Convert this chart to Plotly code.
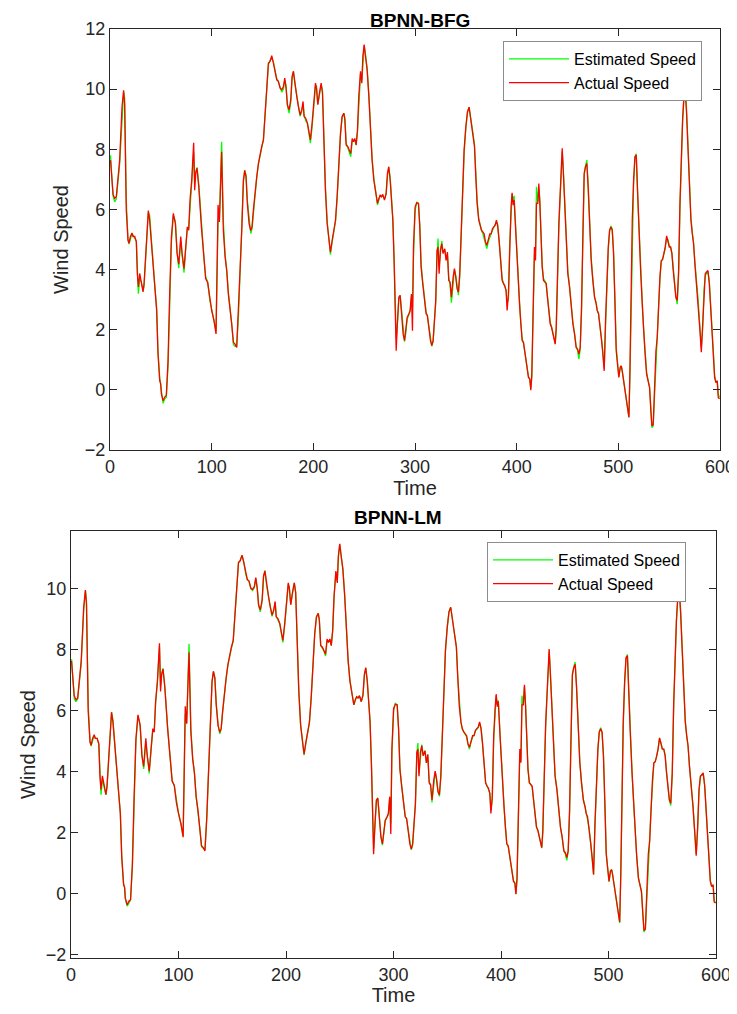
import plotly.graph_objects as go

# time stamps (samples)
time = [
    0.5, 3, 4.6, 6.2, 9.5, 11.8, 13.4, 14.4, 16, 17.7,
    18.7, 20, 21.6, 22.6, 24.3, 25.9, 26.9, 27.9, 29.2, 30.8,
    32.5, 33.5, 35.1, 36.4, 37.7, 39, 41.3, 44, 45.9, 47.2,
    48.9, 49.9, 50.5, 52.2, 53.8, 55.4, 57.1, 58.7, 60.4, 62.3,
    64.3, 66, 67.6, 69.6, 70.9, 72.8, 74.5, 76.1, 77.4, 78.7,
    80.4, 82.3, 83.3, 84.3, 85.6, 87.3, 89.9, 92.5, 94.1, 96.1,
    98.1, 100, 102.3, 104.3, 106.3, 107.6, 109.8, 111.5, 113.2, 114.8,
    116.4, 118.1, 119.7, 121.4, 123, 124.6, 126.3, 127.9, 129.6, 131.2,
    132.5, 133.8, 135.1, 136.8, 138.4, 139.7, 141, 142.7, 144.3, 146,
    147.6, 149.2, 150.9, 152.5, 154.2, 155.8, 157.4, 159.1, 160.7, 162.4,
    164, 165.6, 167.3, 168.9, 170.6, 171.9, 173.2, 174.5, 176.1, 177.8,
    179.1, 180.4, 182, 183.7, 185.3, 187, 188.6, 189.9, 190.9, 192.5,
    194.2, 195.8, 197.1, 198.8, 200.4, 202.1, 203.1, 204.4, 206, 207.7,
    209, 210.3, 211.9, 213.6, 215.2, 216.8, 218.5, 220.1, 221.8, 223.4,
    225, 226.7, 228.3, 230, 231, 232.3, 233.9, 235.5, 236.8, 238.2,
    239.5, 240.8, 242.1, 243.4, 244.7, 246.4, 247.7, 248.7, 250, 251.3,
    252.9, 254.6, 256.2, 257.8, 259.5, 260.5, 261.8, 263.1, 264.4, 265.7,
    267, 268.3, 270, 271.6, 272.9, 274.2, 275.6, 276.9, 278.2, 279.5,
    280.5, 281.5, 282.8, 284.1, 285.4, 286.7, 288.3, 289.7, 291, 292.3,
    293.9, 295.2, 296.5, 297.5, 298.5, 300.1, 301.7, 303.4, 304.7, 306,
    307.6, 309.3, 310.9, 312.2, 313.5, 315.2, 316.5, 317.8, 319.1, 320.4,
    321.7, 322.7, 323.7, 325, 326.3, 327.6, 329.3, 330.6, 331.9, 333.2,
    334.5, 335.8, 337.5, 338.8, 340.1, 341.4, 342.7, 344, 345.4, 347,
    348.3, 350, 351.6, 353.2, 354.5, 355.8, 357.2, 358.5, 359.8, 361.1,
    362.7, 364, 365.4, 366.7, 368, 369.3, 370.6, 371.9, 373.6, 374.9,
    376.2, 377.5, 378.8, 380.1, 381.4, 382.7, 384.1, 385.7, 387, 388.3,
    389.6, 390.6, 391.9, 393.2, 394.5, 395.5, 396.5, 397.5, 399.1, 400.8,
    402.8, 404.1, 405.4, 406.7, 408.4, 410, 411.6, 412.9, 413.9, 414.9,
    416.2, 417.5, 418.5, 419.5, 420.8, 421.8, 422.8, 423.8, 425.1, 426.4,
    427.7, 429, 430.3, 431.6, 433, 434.3, 435.6, 436.9, 437.9, 438.9,
    440.2, 441.5, 442.5, 443.8, 444.8, 445.8, 447.1, 448.7, 450.3, 452,
    453.6, 455.3, 456.9, 458.5, 459.9, 461.2, 462.5, 463.8, 465.1, 466.4,
    467.7, 469, 470.3, 471.7, 473.3, 474.9, 476.6, 478.2, 479.2, 480.5,
    481.8, 483.5, 484.8, 486.1, 487.4, 488.7, 490.1, 491.4, 492.7, 494,
    495.3, 496.6, 497.9, 499.5, 500.5, 501.8, 502.9, 503.8, 505.5, 506.5,
    507.8, 509.4, 510.4, 511.4, 512.4, 513.7, 515, 516.3, 517.6, 518.9,
    520.2, 521.9, 523.5, 524.8, 526.1, 527.8, 529.4, 530.7, 532, 533,
    534.3, 535.7, 537, 538.3, 539.6, 540.9, 542.2, 543.5, 544.8, 546.1,
    547.5, 548.8, 550.1, 551.4, 552.7, 554, 555.3, 556.6, 557.9, 559.3,
    560.6, 561.9, 563.2, 564.5, 565.8, 567.1, 568.5, 569.8, 571.4, 572.7,
    574, 575.3, 577, 578.6, 580.3, 581.6, 582.9, 584.2, 585.5, 586.8,
    588.1, 589.5, 590.8, 592.1, 593.4, 594.7, 596, 597.3, 598.3, 599.6,
]

# measured wind speed (red)
actual_speed = [
    7.64, 6.5, 6.37, 6.42, 7.64, 9.4, 9.96, 9.5, 5.98, 4.98,
    4.87, 5.09, 5.22, 5.1, 5.1, 4.92, 3.87, 3.42, 3.87, 3.53,
    3.26, 3.53, 4.53, 5.53, 5.96, 5.64, 4.53, 3.42, 2.64, 1.2,
    0.31, 0.2, -0.13, -0.36, -0.24, -0.19, 0.98, 3.2, 5.09, 5.87,
    5.53, 4.53, 4.18, 5.1, 4.53, 4.03, 4.76, 5.42, 5.31, 6.31,
    6.98, 8.22, 6.64, 7.2, 7.37, 6.76, 5.42, 4.31, 3.7, 3.56,
    2.98, 2.64, 2.3, 1.86, 6.15, 5.58, 7.92, 5.3, 4.42, 3.97,
    3.19, 2.75, 2.19, 1.58, 1.52, 1.41, 2.52, 3.97, 5.3, 6.97,
    7.3, 7.08, 6.2, 5.53, 5.3, 5.42, 5.97, 6.64, 7.08, 7.53,
    7.86, 8.09, 8.31, 9.2, 9.98, 10.87, 10.92, 11.11, 10.87, 10.53,
    10.31, 10.26, 10.03, 9.98, 10.09, 10.37, 10.03, 9.48, 9.31, 9.64,
    10.42, 10.59, 10.09, 9.76, 9.42, 9.14, 9.31, 9.59, 9.09, 9.03,
    8.87, 8.53, 8.31, 8.87, 9.53, 10.2, 10.03, 9.48, 9.87, 10.2,
    9.87, 8.09, 6.64, 5.53, 4.97, 4.58, 4.97, 5.3, 5.64, 6.42,
    7.53, 8.53, 9.09, 9.2, 8.98, 8.14, 8.09, 7.98, 7.86, 8.36,
    8.25, 8.36, 8.14, 8.64, 9.76, 10.59, 10.2, 11.09, 11.48, 11.09,
    10.65, 9.76, 8.64, 7.64, 6.97, 6.75, 6.42, 6.2, 6.36, 6.47,
    6.42, 6.5, 6.31, 6.53, 7.2, 7.42, 6.97, 6.42, 5.64, 4.2,
    2.52, 1.3, 2.3, 3.08, 3.14, 2.52, 1.86, 1.64, 1.97, 2.41,
    2.52, 2.64, 3.19, 1.97, 4.75, 6.08, 6.22, 6.2, 5.42, 4.08,
    3.53, 2.97, 2.53, 2.47, 2.08, 1.64, 1.47, 1.64, 2.3, 2.97,
    4.64, 4.75, 3.86, 4.64, 4.86, 4.53, 4.69, 4.3, 4.58, 3.64,
    3.58, 3.08, 3.75, 4.03, 3.75, 3.36, 3.25, 3.86, 5.19, 6.53,
    7.98, 8.75, 9.25, 9.4, 9.09, 8.87, 8.42, 8.09, 7.09, 6.2,
    5.64, 5.42, 5.31, 5.25, 5.19, 4.92, 4.81, 4.97, 5.19, 5.19,
    5.36, 5.42, 5.47, 5.64, 5.42, 4.97, 4.3, 3.64, 3.53, 3.47,
    3.3, 2.64, 3.19, 5.19, 6.08, 6.55, 6.14, 6.31, 5.19, 3.9,
    2.86, 2.19, 1.64, 1.58, 1.19, 0.75, 0.41, 0.36, -0.01, 0.52,
    2.3, 4.75, 4.3, 6.2, 6.2, 6.86, 6.2, 5.08, 4.08, 3.64,
    3.58, 3.53, 3.08, 2.53, 2.19, 2.08, 1.86, 1.64, 1.52, 2.08,
    4.08, 5.53, 6.31, 7.31, 8.03, 7.31, 6.2, 4.86, 3.86, 3.42,
    2.75, 2.19, 1.86, 1.41, 1.36, 1.19, 1.41, 2.75, 5.08, 7.2,
    7.42, 7.53, 6.75, 5.53, 4.3, 3.64, 3.08, 2.86, 2.64, 2.53,
    2.19, 1.64, 1.19, 0.63, 2.3, 3.64, 4.75, 5.31, 5.42, 5.31,
    4.53, 2.97, 1.3, 0.75, 0.41, 0.75, 0.8, 0.63, 0.19, -0.03,
    -0.37, -0.7, -0.92, 0.63, 2.86, 5.64, 6.97, 7.75, 7.81, 6.42,
    5.31, 3.97, 2.86, 1.97, 1.3, 0.52, 0.24, 0.08, -0.7, -1.2,
    -1.15, 0.08, 1.3, 1.75, 2.86, 3.75, 4.3, 4.33, 4.53, 4.75,
    5.12, 4.97, 4.75, 4.75, 4.53, 3.97, 3.42, 3.08, 2.97, 3.97,
    6.2, 7.86, 8.98, 9.76, 9.98, 9.2, 7.86, 6.75, 5.64, 5.2,
    4.86, 4.19, 3.53, 2.86, 1.97, 1.25, 2.19, 3.42, 3.86, 3.92,
    3.97, 3.53, 2.86, 1.97, 1.19, 0.41, 0.24, 0.3, -0.26, -0.3,
]

# BPNN-BFG estimate (green, top panel)
est_bfg = [
    7.8, 6.45, 6.25, 6.35, 7.5, 9.2, 9.9, 9.7, 6.3, 5.0,
    4.85, 5.0, 5.2, 5.15, 5.05, 4.95, 4.0, 3.2, 3.7, 3.6,
    3.3, 3.45, 4.4, 5.4, 5.9, 5.8, 4.6, 3.5, 2.7, 1.3,
    0.4, 0.15, -0.1, -0.45, -0.3, -0.25, 0.8, 3.0, 4.9, 5.8,
    5.6, 4.6, 4.05, 4.95, 4.6, 3.9, 4.7, 5.4, 5.35, 6.2,
    6.9, 7.9, 6.9, 7.25, 7.4, 6.85, 5.5, 4.35, 3.75, 3.6,
    3.0, 2.7, 2.35, 1.95, 5.6, 5.6, 8.25, 5.6, 4.5, 4.0,
    3.25, 2.8, 2.2, 1.5, 1.45, 1.45, 2.4, 3.85, 5.2, 6.9,
    7.3, 7.15, 6.3, 5.6, 5.2, 5.35, 5.9, 6.6, 7.05, 7.5,
    7.85, 8.05, 8.3, 9.1, 9.9, 10.8, 10.95, 11.05, 10.9, 10.55,
    10.35, 10.25, 10.05, 9.9, 10.0, 10.3, 10.1, 9.45, 9.2, 9.55,
    10.35, 10.6, 10.15, 9.8, 9.35, 9.1, 9.25, 9.5, 9.15, 8.95,
    8.85, 8.45, 8.2, 8.75, 9.45, 10.1, 10.1, 9.5, 9.8, 10.15,
    9.95, 8.2, 6.75, 5.6, 5.0, 4.5, 4.9, 5.25, 5.6, 6.35,
    7.45, 8.45, 9.05, 9.2, 9.05, 8.2, 8.05, 7.9, 7.75, 8.25,
    8.3, 8.3, 8.15, 8.55, 9.65, 10.5, 10.3, 10.95, 11.45, 11.15,
    10.7, 9.85, 8.75, 7.7, 7.05, 6.8, 6.45, 6.15, 6.3, 6.45,
    6.45, 6.45, 6.35, 6.5, 7.1, 7.4, 7.05, 6.5, 5.7, 4.35,
    2.8, 1.7, 2.25, 3.0, 3.15, 2.6, 1.95, 1.6, 1.9, 2.35,
    2.5, 2.6, 3.1, 2.7, 4.4, 5.95, 6.25, 6.2, 5.5, 4.2,
    3.6, 3.05, 2.6, 2.45, 2.15, 1.7, 1.45, 1.6, 2.2, 2.9,
    4.5, 5.03, 4.1, 4.5, 4.95, 4.6, 4.65, 4.35, 4.5, 3.75,
    3.5, 2.9, 3.6, 4.0, 3.8, 3.4, 3.15, 3.75, 5.05, 6.4,
    7.85, 8.7, 9.2, 9.4, 9.15, 8.9, 8.5, 8.15, 7.2, 6.3,
    5.7, 5.45, 5.3, 5.2, 5.05, 4.85, 4.7, 4.9, 5.1, 5.2,
    5.3, 5.4, 5.45, 5.6, 5.5, 5.05, 4.4, 3.7, 3.55, 3.45,
    3.3, 2.9, 3.0, 4.9, 6.0, 6.5, 6.3, 6.45, 5.35, 4.0,
    2.95, 2.25, 1.7, 1.55, 1.2, 0.8, 0.45, 0.35, 0.05, 0.4,
    2.1, 4.5, 4.45, 6.75, 6.25, 6.7, 6.3, 5.2, 4.15, 3.7,
    3.6, 3.55, 3.1, 2.6, 2.25, 2.1, 1.9, 1.7, 1.55, 1.95,
    3.9, 5.4, 6.2, 7.2, 7.9, 7.4, 6.3, 4.95, 3.95, 3.45,
    2.8, 2.25, 1.9, 1.45, 1.3, 1.02, 1.35, 2.6, 4.9, 7.1,
    7.45, 7.64, 6.85, 5.65, 4.4, 3.7, 3.1, 2.9, 2.65, 2.55,
    2.25, 1.7, 1.25, 0.7, 2.1, 3.5, 4.65, 5.25, 5.45, 5.35,
    4.6, 3.1, 1.45, 0.8, 0.45, 0.7, 0.8, 0.65, 0.25, 0.0,
    -0.3, -0.65, -0.9, 0.4, 2.6, 5.4, 6.85, 7.7, 7.85, 6.55,
    5.4, 4.05, 2.95, 2.05, 1.35, 0.6, 0.3, 0.1, -0.6, -1.25,
    -1.2, -0.05, 1.2, 1.7, 2.75, 3.65, 4.25, 4.35, 4.5, 4.7,
    5.05, 5.0, 4.8, 4.75, 4.55, 4.05, 3.5, 3.1, 2.85, 3.8,
    6.0, 7.7, 8.9, 9.7, 10.1, 9.35, 8.0, 6.85, 5.75, 5.25,
    4.9, 4.25, 3.6, 2.95, 2.05, 1.4, 2.0, 3.3, 3.8, 3.9,
    3.95, 3.6, 2.95, 2.05, 1.3, 0.5, 0.25, 0.3, -0.15, -0.25,
]

# BPNN-LM estimate (green, bottom panel)
est_lm = [
    7.7, 6.4, 6.3, 6.4, 7.55, 9.3, 9.95, 9.6, 6.2, 5.0,
    4.85, 5.05, 5.2, 5.1, 5.1, 4.9, 3.95, 3.25, 3.75, 3.55,
    3.25, 3.5, 4.45, 5.45, 5.95, 5.7, 4.55, 3.45, 2.65, 1.25,
    0.35, 0.2, -0.15, -0.4, -0.3, -0.2, 0.9, 3.1, 5.0, 5.85,
    5.55, 4.55, 4.1, 5.0, 4.55, 3.95, 4.75, 5.4, 5.3, 6.25,
    6.95, 8.1, 6.8, 7.2, 7.4, 6.8, 5.45, 4.3, 3.7, 3.55,
    3.0, 2.65, 2.3, 1.9, 5.9, 5.6, 8.2, 5.45, 4.45, 4.0,
    3.2, 2.75, 2.2, 1.55, 1.5, 1.45, 2.45, 3.9, 5.25, 6.95,
    7.3, 7.1, 6.25, 5.55, 5.25, 5.4, 5.95, 6.6, 7.05, 7.5,
    7.85, 8.05, 8.3, 9.15, 9.95, 10.85, 10.95, 11.1, 10.9, 10.5,
    10.3, 10.25, 10.0, 9.95, 10.05, 10.35, 10.05, 9.45, 9.25, 9.6,
    10.4, 10.6, 10.1, 9.75, 9.4, 9.1, 9.3, 9.55, 9.1, 9.0,
    8.85, 8.5, 8.25, 8.8, 9.5, 10.15, 10.05, 9.5, 9.85, 10.2,
    9.9, 8.15, 6.7, 5.55, 5.0, 4.55, 4.95, 5.3, 5.6, 6.4,
    7.5, 8.5, 9.05, 9.2, 9.0, 8.15, 8.05, 7.95, 7.8, 8.3,
    8.25, 8.35, 8.15, 8.6, 9.7, 10.55, 10.25, 11.0, 11.45, 11.1,
    10.65, 9.8, 8.7, 7.65, 7.0, 6.75, 6.45, 6.2, 6.35, 6.45,
    6.45, 6.5, 6.3, 6.5, 7.15, 7.4, 7.0, 6.45, 5.65, 4.25,
    2.65, 1.5, 2.3, 3.05, 3.15, 2.55, 1.9, 1.6, 1.95, 2.4,
    2.5, 2.6, 3.15, 2.3, 4.6, 6.0, 6.25, 6.2, 5.45, 4.1,
    3.55, 3.0, 2.55, 2.45, 2.1, 1.65, 1.45, 1.6, 2.25, 2.95,
    4.6, 4.95, 3.95, 4.6, 4.9, 4.55, 4.7, 4.3, 4.55, 3.7,
    3.55, 3.0, 3.7, 4.0, 3.75, 3.35, 3.2, 3.8, 5.15, 6.5,
    7.95, 8.75, 9.25, 9.4, 9.1, 8.85, 8.45, 8.1, 7.1, 6.25,
    5.65, 5.4, 5.3, 5.25, 5.15, 4.9, 4.75, 4.95, 5.15, 5.2,
    5.35, 5.4, 5.45, 5.6, 5.45, 5.0, 4.35, 3.65, 3.55, 3.45,
    3.3, 2.75, 3.1, 5.05, 6.05, 6.5, 6.2, 6.35, 5.25, 3.95,
    2.9, 2.2, 1.65, 1.55, 1.2, 0.75, 0.45, 0.35, 0.0, 0.45,
    2.2, 4.6, 4.35, 6.5, 6.2, 6.8, 6.25, 5.15, 4.1, 3.65,
    3.6, 3.5, 3.1, 2.55, 2.2, 2.1, 1.85, 1.65, 1.5, 2.0,
    4.0, 5.45, 6.25, 7.25, 7.95, 7.35, 6.25, 4.9, 3.9, 3.45,
    2.75, 2.2, 1.85, 1.4, 1.3, 1.1, 1.4, 2.7, 5.0, 7.15,
    7.45, 7.6, 6.8, 5.6, 4.35, 3.65, 3.1, 2.85, 2.65, 2.5,
    2.2, 1.65, 1.2, 0.65, 2.2, 3.55, 4.7, 5.3, 5.45, 5.3,
    4.55, 3.0, 1.35, 0.75, 0.4, 0.75, 0.8, 0.65, 0.2, -0.05,
    -0.35, -0.7, -0.95, 0.5, 2.75, 5.5, 6.9, 7.7, 7.85, 6.5,
    5.35, 4.0, 2.9, 2.0, 1.3, 0.55, 0.25, 0.05, -0.65, -1.25,
    -1.15, 0.0, 1.25, 1.75, 2.8, 3.7, 4.3, 4.35, 4.5, 4.75,
    5.1, 4.95, 4.75, 4.75, 4.55, 4.0, 3.45, 3.1, 2.9, 3.9,
    6.1, 7.8, 8.95, 9.75, 10.05, 9.3, 7.9, 6.8, 5.7, 5.2,
    4.85, 4.2, 3.55, 2.9, 2.0, 1.3, 2.1, 3.35, 3.85, 3.9,
    3.95, 3.55, 2.9, 2.0, 1.25, 0.45, 0.25, 0.3, -0.2, -0.3,
]

GREEN = "#00ff00"
RED = "#ff0000"
AXIS = "#262626"
FONT = "Liberation Sans, Arial, sans-serif"

PAGE_OFFSET = 8  # default body margin of the html page
# figure sized so the page (with body margins) fits the 737x1014 window
W, H = 737 - PAGE_OFFSET, 1014 - 2 * PAGE_OFFSET


def px_x(p):
    return (p - PAGE_OFFSET) / W


def px_y(p):
    return 1 - (p - PAGE_OFFSET) / H


fig = go.Figure()

# top panel: BPNN-BFG
fig.add_trace(go.Scatter(x=time, y=est_bfg, mode="lines", name="Estimated Speed",
                         line=dict(color=GREEN, width=1.3), xaxis="x", yaxis="y", legend="legend"))
fig.add_trace(go.Scatter(x=time, y=actual_speed, mode="lines", name="Actual Speed",
                         line=dict(color=RED, width=1.3), xaxis="x", yaxis="y", legend="legend"))

# bottom panel: BPNN-LM
fig.add_trace(go.Scatter(x=time, y=est_lm, mode="lines", name="Estimated Speed",
                         line=dict(color=GREEN, width=1.3), xaxis="x2", yaxis="y2", legend="legend2"))
fig.add_trace(go.Scatter(x=time, y=actual_speed, mode="lines", name="Actual Speed",
                         line=dict(color=RED, width=1.3), xaxis="x2", yaxis="y2", legend="legend2"))

axis_common = dict(
    showline=True, linecolor=AXIS, linewidth=1.2, mirror="ticks",
    ticks="inside", ticklen=7, tickcolor=AXIS, tickwidth=1,
    showgrid=False, zeroline=False, automargin=False,
    tickfont=dict(family=FONT, size=18, color=AXIS),
)
title_font = dict(family=FONT, size=20, color=AXIS)
legend_common = dict(
    xanchor="left", yanchor="top",
    bgcolor="white", bordercolor="#8c8c8c", borderwidth=1,
    font=dict(family=FONT, size=16, color="black"),
    itemwidth=60, tracegroupgap=0,
)

fig.update_layout(
    width=W, height=H,
    margin=dict(l=0, r=0, t=0, b=0),
    paper_bgcolor="white", plot_bgcolor="white",
    font=dict(family=FONT, color=AXIS),
    xaxis=dict(domain=[px_x(110), px_x(720)], range=[0, 600], anchor="y",
               tickvals=[0, 100, 200, 300, 400, 500, 600],
               title=dict(text="Time", font=title_font, standoff=2),
               **axis_common),
    yaxis=dict(domain=[px_y(450), px_y(29)], range=[-2, 12], anchor="x",
               tickvals=[-2, 0, 2, 4, 6, 8, 10, 12],
               title=dict(text="Wind Speed", font=title_font, standoff=10),
               **axis_common),
    xaxis2=dict(domain=[px_x(71), px_x(716)], range=[0, 600], anchor="y2",
                tickvals=[0, 100, 200, 300, 400, 500, 600],
                title=dict(text="Time", font=title_font, standoff=0),
                **axis_common),
    yaxis2=dict(domain=[px_y(958), px_y(531)], range=[-2.1, 11.9], anchor="x2",
                tickvals=[-2, 0, 2, 4, 6, 8, 10],
                title=dict(text="Wind Speed", font=title_font, standoff=4),
                **axis_common),
    legend=dict(x=px_x(503), y=px_y(41), **legend_common),
    legend2=dict(x=px_x(487), y=px_y(542), **legend_common),
    showlegend=True,
)

# panel titles
fig.add_annotation(text="<b>BPNN-BFG</b>", x=px_x(420), y=px_y(21), xref="paper", yref="paper",
                   showarrow=False, xanchor="center", yanchor="middle",
                   font=dict(family=FONT, size=19, color="black"))
fig.add_annotation(text="<b>BPNN-LM</b>", x=px_x(398), y=px_y(518), xref="paper", yref="paper",
                   showarrow=False, xanchor="center", yanchor="middle",
                   font=dict(family=FONT, size=19, color="black"))

fig.write_html("out.html")
